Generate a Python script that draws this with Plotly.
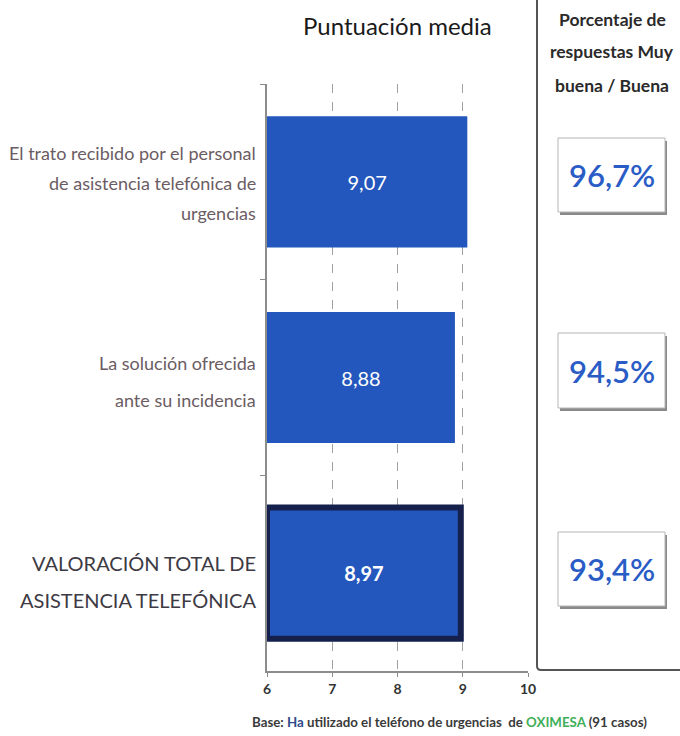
import plotly.graph_objects as go

categories = [
    "El trato recibido por el personal de asistencia telefónica de urgencias",
    "La solución ofrecida ante su incidencia",
    "VALORACIÓN TOTAL DE ASISTENCIA TELEFÓNICA",
]
label_lines = [
    ["El trato recibido por el personal", "de asistencia telefónica de", "urgencias"],
    ["La solución ofrecida", "ante su incidencia"],
    ["VALORACIÓN TOTAL DE", "ASISTENCIA TELEFÓNICA"],
]
scores = [9.07, 8.88, 8.97]
score_labels = ["9,07", "8,88", "<b>8,97</b>"]
pct_labels = ["96,7%", "94,5%", "93,4%"]
x_ticks = [6, 7, 8, 9, 10]
axis_min = 6

W, H = 680, 736
L, R, T, B = 267, 528, 84, 671
FONT = "Lato, sans-serif"


def px(x):
    return (x - L) / (R - L)


def py(y):
    return (B - y) / (B - T)


def f(size, color, weight="normal"):
    return dict(family=FONT, size=size, color=color, weight=weight)


fig = go.Figure()
fig.add_trace(go.Bar(
    y=categories,
    x=[s - axis_min for s in scores],
    base=axis_min,
    orientation="h",
    text=score_labels,
    textposition="inside",
    insidetextanchor="middle",
    textfont=f(20, "white"),
    marker=dict(color="#2457bd",
                line=dict(color=["#2457bd", "#2457bd", "#15204c"], width=[0, 0, 6])),
    width=0.67,
    hoverinfo="skip",
))

annotations = []
shapes = []

label_y = [[153, 183, 213], [363, 400], [563, 600]]
for i, lines in enumerate(label_lines):
    big = i == 2
    for line, yy in zip(lines, label_y[i]):
        annotations.append(dict(
            x=px(258), y=py(yy), xref="paper", yref="paper",
            xanchor="right", yanchor="middle", showarrow=False,
            text=line,
            font=f(20 if big else 18, "#3d3a44" if big else "#6b5c63"),
        ))

annotations.append(dict(x=px(397), y=py(26), xref="paper", yref="paper",
                        xanchor="center", yanchor="middle", showarrow=False,
                        text="Puntuación media",
                        font=f(24, "#1a1a1a")))
for line, yy in zip(["Porcentaje de", "respuestas Muy", "buena / Buena"], [20, 52, 85]):
    annotations.append(dict(x=px(612), y=py(yy), xref="paper", yref="paper",
                            xanchor="center", yanchor="middle", showarrow=False,
                            text="<b>" + line + "</b>",
                            font=f(17.5, "#2a2a2a")))

boxes = [(138, 212), (333, 408), (532, 606)]
for (y0, y1), lab in zip(boxes, pct_labels):
    shapes.append(dict(type="rect", xref="paper", yref="paper",
                       x0=px(560), x1=px(667), y0=py(y0 + 3), y1=py(y1 + 3),
                       line=dict(width=0), fillcolor="#8a8a8a", layer="above"))
    shapes.append(dict(type="rect", xref="paper", yref="paper",
                       x0=px(558), x1=px(665), y0=py(y0), y1=py(y1),
                       line=dict(color="#b5b5b5", width=1), fillcolor="white",
                       layer="above"))
    annotations.append(dict(x=px(612), y=py((y0 + y1) / 2), xref="paper", yref="paper",
                            xanchor="center", yanchor="middle", showarrow=False,
                            text=lab,
                            font=f(31, "#2a5cc6", 600)))

shapes.append(dict(type="path", xref="paper", yref="paper",
                   path=f"M {px(537)},{py(0)} L {px(537)},{py(666)} "
                        f"Q {px(537)},{py(670)} {px(541)},{py(670)} L {px(680)},{py(670)}",
                   line=dict(color="#555555", width=2)))

annotations.append(dict(x=px(449), y=py(722), xref="paper", yref="paper",
                        xanchor="center", yanchor="middle", showarrow=False,
                        text="<b>Base: <span style='color:#2f4a8a'>Ha</span> utilizado el teléfono de "
                             "urgencias  de <span style='color:#3fae5a'>OXIMESA</span> (91 casos)</b>",
                        font=f(13.3, "#3a3a3a")))

fig.update_layout(
    width=W, height=H,
    margin=dict(l=L, r=W - R, t=T, b=H - B, pad=0),
    paper_bgcolor="white", plot_bgcolor="white",
    showlegend=False, bargap=0.33,
    xaxis=dict(range=[6, 10], tickvals=x_ticks, ticktext=[str(v) for v in x_ticks],
               showgrid=True, gridcolor="#a0a0a0", griddash="dash", gridwidth=1,
               showline=True, linecolor="#8c8c8c", linewidth=1.5,
               ticks="outside", ticklen=4, tickcolor="#8c8c8c",
               tickfont=f(14, "#333333", "bold"),
               zeroline=False, fixedrange=True),
    yaxis=dict(autorange="reversed", showticklabels=False,
               showline=True, linecolor="#8c8c8c", linewidth=1.5,
               ticks="outside", tickson="boundaries", ticklen=5, tickcolor="#8c8c8c",
               showgrid=False, fixedrange=True),
    annotations=annotations,
    shapes=shapes,
)

fig.write_html("out.html", config={"displayModeBar": False},
               post_script="document.body.style.margin='0';document.body.style.overflow='hidden';")
